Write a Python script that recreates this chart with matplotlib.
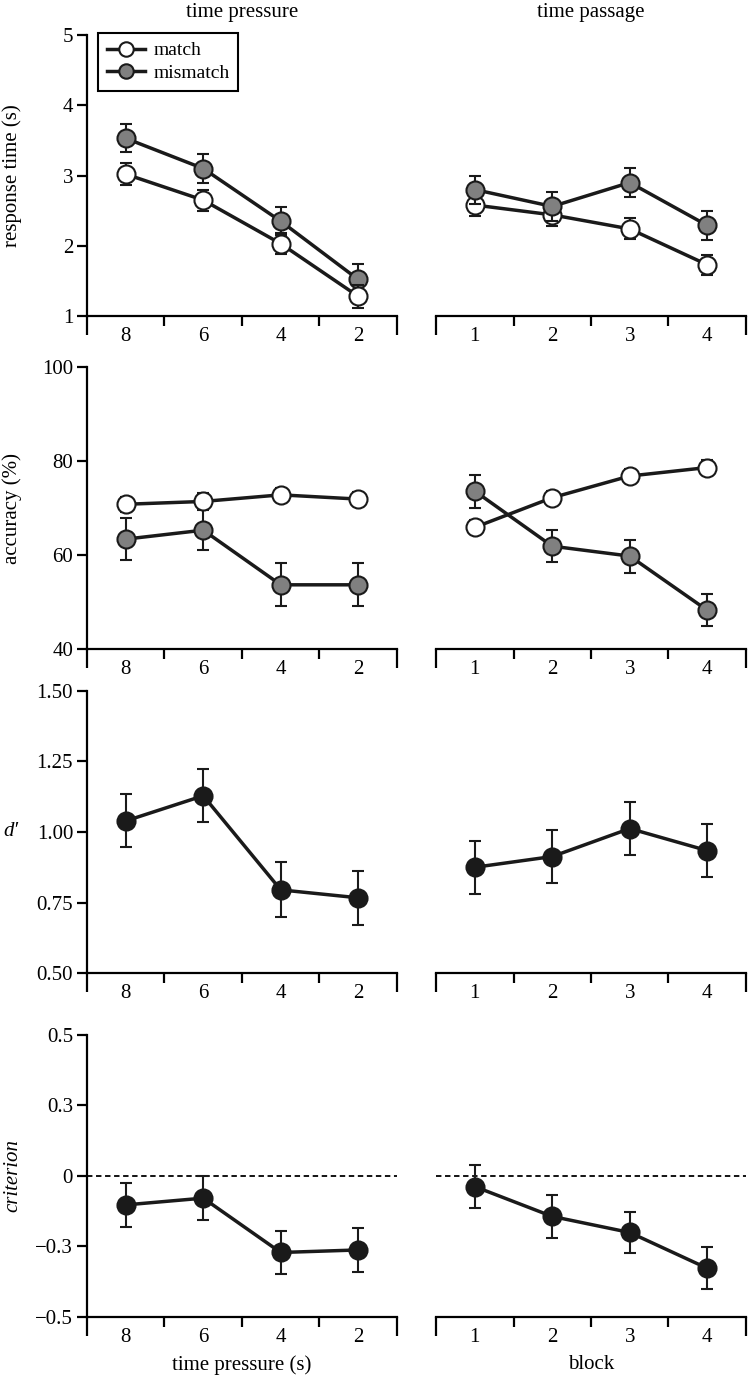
import numpy as np
import matplotlib
matplotlib.use("Agg")
import matplotlib.pyplot as plt

plt.rcParams['font.family'] = ['Liberation Serif', 'DejaVu Serif']

# categories
press_labels = ['8', '6', '4', '2']
block_labels = ['1', '2', '3', '4']

# response time (s)
rt_press_match = [3.02, 2.65, 2.03, 1.28]
rt_press_match_err = [0.16, 0.15, 0.15, 0.16]
rt_press_mismatch = [3.53, 3.10, 2.35, 1.52]
rt_press_mismatch_err = [0.20, 0.20, 0.20, 0.22]
rt_block_match = [2.58, 2.44, 2.24, 1.73]
rt_block_match_err = [0.15, 0.16, 0.15, 0.14]
rt_block_mismatch = [2.80, 2.56, 2.90, 2.29]
rt_block_mismatch_err = [0.20, 0.21, 0.21, 0.21]

# accuracy (%)
acc_press_match = [70.8, 71.4, 72.8, 71.9]
acc_press_match_err = [1.6, 1.7, 1.5, 1.5]
acc_press_mismatch = [63.4, 65.3, 53.7, 53.7]
acc_press_mismatch_err = [4.4, 4.3, 4.6, 4.6]
acc_block_match = [65.9, 72.2, 76.8, 78.6]
acc_block_match_err = [1.5, 1.5, 1.5, 1.5]
acc_block_mismatch = [73.6, 61.9, 59.8, 48.3]
acc_block_mismatch_err = [3.5, 3.4, 3.5, 3.4]

# d'
dp_press = [1.039, 1.128, 0.795, 0.767]
dp_press_err = [0.094, 0.094, 0.097, 0.095]
dp_block = [0.875, 0.913, 1.012, 0.934]
dp_block_err = [0.094, 0.094, 0.094, 0.094]

# criterion
crit_press = [-0.103, -0.079, -0.272, -0.263]
crit_press_err = [0.077, 0.079, 0.077, 0.077]
crit_block = [-0.038, -0.144, -0.201, -0.328]
crit_block_err = [0.075, 0.075, 0.074, 0.075]

BLACK = '#1a1a1a'
GREY = '#808080'
LW_AX = 1.6
FS = 15

fig = plt.figure(figsize=(7.48, 13.86), dpi=100)
lefts = [0.1163, 0.5829]
width = 0.4144
bottoms = [0.7720, 0.5315, 0.2978, 0.0500]
heights = [0.2027, 0.2039, 0.2039, 0.2032]

xc = np.arange(4) + 0.5


def style_axes(ax, labels, first_col):
    ax.set_xlim(0, 4)
    ax.spines['top'].set_visible(False)
    ax.spines['right'].set_visible(False)
    for s in ax.spines.values():
        s.set_linewidth(LW_AX)
    ax.set_xticks(xc, labels)
    ax.tick_params(axis='x', which='major', length=0, pad=8, labelsize=FS)
    ax.set_xticks([1, 2, 3], minor=True)
    ax.tick_params(axis='x', which='minor', length=7, width=LW_AX, direction='out')
    # long end ticks at both ends of the category axis
    for xe in (0, 4):
        ax.plot([xe, xe], [0, -0.067], transform=ax.get_xaxis_transform(),
                color='k', lw=LW_AX, clip_on=False, solid_capstyle='butt')
    if first_col:
        ax.tick_params(axis='y', length=7, width=LW_AX, direction='out', pad=3, labelsize=FS)
    else:
        ax.spines['left'].set_visible(False)
        ax.tick_params(axis='y', left=False, labelleft=False)


def series(ax, y, e, fc, z=3):
    return ax.errorbar(xc, y, yerr=e, fmt='-o', color=BLACK, mfc=fc, mec=BLACK,
                       ms=13, mew=1.5, lw=2.5, elinewidth=1.5, capsize=4,
                       capthick=1.5, zorder=z, clip_on=False)


axes = [[fig.add_axes([lefts[c], bottoms[r], width, heights[r]]) for c in range(2)]
        for r in range(4)]

# row 1: response time
ax = axes[0][0]
e_mis = series(ax, rt_press_mismatch, rt_press_mismatch_err, GREY, 3)
e_mat = series(ax, rt_press_match, rt_press_match_err, 'white', 4)
ax.set_ylim(1, 5)
ax.set_yticks([1, 2, 3, 4, 5])
leg = ax.legend(handles=[e_mat[0], e_mis[0]], labels=['match', 'mismatch'],
                loc='upper left', bbox_to_anchor=(0.035, 1.007), borderaxespad=0,
                fancybox=False, edgecolor='k', fontsize=14, handlelength=2.0,
                borderpad=0.45, labelspacing=0.25, handletextpad=0.4,
                markerscale=0.8, framealpha=1)
leg.get_frame().set_linewidth(1.5)
ax = axes[0][1]
series(ax, rt_block_match, rt_block_match_err, 'white', 3)
series(ax, rt_block_mismatch, rt_block_mismatch_err, GREY, 4)
ax.set_ylim(1, 5)

# row 2: accuracy
ax = axes[1][0]
series(ax, acc_press_mismatch, acc_press_mismatch_err, GREY, 3)
series(ax, acc_press_match, acc_press_match_err, 'white', 4)
ax.set_ylim(40, 100)
ax.set_yticks([40, 60, 80, 100])
ax = axes[1][1]
series(ax, acc_block_match, acc_block_match_err, 'white', 3)
series(ax, acc_block_mismatch, acc_block_mismatch_err, GREY, 4)
ax.set_ylim(40, 100)

# row 3: d'
ax = axes[2][0]
series(ax, dp_press, dp_press_err, BLACK)
ax.set_ylim(0.5, 1.5)
ax.set_yticks([0.5, 0.75, 1.0, 1.25, 1.5], ['0.50', '0.75', '1.00', '1.25', '1.50'])
ax = axes[2][1]
series(ax, dp_block, dp_block_err, BLACK)
ax.set_ylim(0.5, 1.5)

# row 4: criterion
for c, (y, e) in enumerate([(crit_press, crit_press_err), (crit_block, crit_block_err)]):
    ax = axes[3][c]
    ax.axhline(0, color='k', lw=1.3, ls=(0, (3, 2)), zorder=1)
    series(ax, y, e, BLACK)
    ax.set_ylim(-0.5, 0.5)
axes[3][0].set_yticks([-0.5, -0.25, 0, 0.25, 0.5],
                      ['\u22120.5', '\u22120.3', '0', '0.3', '0.5'])

for r in range(4):
    style_axes(axes[r][0], press_labels, True)
    style_axes(axes[r][1], block_labels, False)

axes[0][0].set_title('time pressure', fontsize=FS, pad=13)
axes[0][1].set_title('time passage', fontsize=FS, pad=13)

axes[0][0].set_ylabel('response time (s)', fontsize=FS)
axes[0][0].yaxis.set_label_coords(-0.21, 0.5)
axes[1][0].set_ylabel('accuracy (%)', fontsize=FS)
axes[1][0].yaxis.set_label_coords(-0.21, 0.5)
axes[2][0].set_ylabel('d\u2032', fontsize=FS, style='italic', rotation=0,
                      ha='center', va='center')
axes[2][0].yaxis.set_label_coords(-0.245, 0.5)
axes[3][0].set_ylabel('criterion', fontsize=FS, style='italic')
axes[3][0].yaxis.set_label_coords(-0.207, 0.5)

axes[3][0].set_xlabel('time pressure (s)', fontsize=FS, labelpad=6)
axes[3][1].set_xlabel('block', fontsize=FS, labelpad=6)

fig.savefig('out.png', dpi=100)
